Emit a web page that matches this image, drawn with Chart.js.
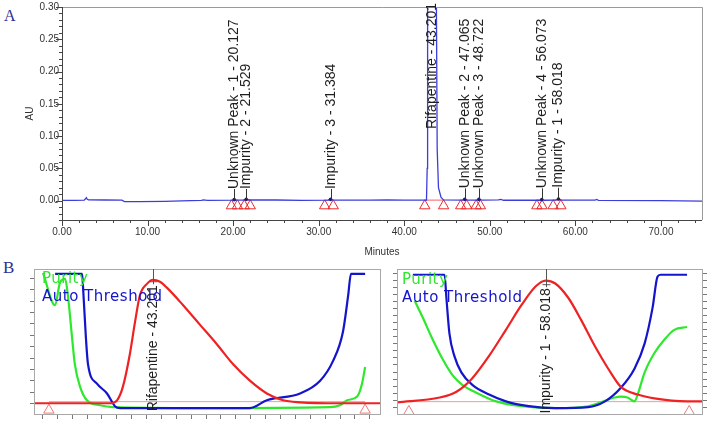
<!DOCTYPE html>
<html>
<head>
<meta charset="utf-8">
<script src="https://cdn.jsdelivr.net/npm/chart.js@4.4.1/dist/chart.umd.min.js"></script>
<style>
  html, body { margin: 0; padding: 0; background: #fff; }
  #page { position: relative; width: 709px; height: 421px; overflow: hidden; }
  canvas { position: absolute; }
  .tag { position: absolute; font-family: "Liberation Serif", "DejaVu Serif", serif; color: #2b2f96; }
</style>
</head>
<body>
<div id="page">
  <div class="tag" style="left:4px;top:8px;font-size:16px;line-height:16px">A</div>
  <div class="tag" style="left:3px;top:259px;font-size:17px;line-height:17px">B</div>
  <canvas id="chromatogram" width="709" height="262" style="left:0;top:0"></canvas>
  <canvas id="rifWindow" width="392" height="159" style="left:0;top:262px"></canvas>
  <canvas id="impWindow" width="319" height="159" style="left:390px;top:262px"></canvas>
</div>
<script>
// --- A: chromatogram (minutes vs AU) ---
const traceMinutes = [0, 1.5, 2.6, 2.75, 2.85, 2.95, 3.1, 5, 7.0, 7.3, 9, 12, 15, 16.3, 16.5, 17,
    19.9, 20.127, 20.4, 21.2, 21.529, 21.9, 25, 28, 31.1, 31.384, 31.7, 36, 38, 40,
    42.6, 42.68, 42.73, 42.9, 43.201, 43.5, 43.7, 43.76, 43.85, 44.0, 44.3, 44.6,
    46.8, 47.065, 47.4, 48.5, 48.722, 49.1, 51, 51.3, 51.6, 55.8, 56.073, 56.4,
    57.7, 58.018, 58.4, 62.3, 62.5, 62.7, 70, 74.8];
const traceAU = [0.0005, 0.0005, 0.0008, 0.003, 0.0045, 0.002, 0.0012, 0.001, 0.0008, -0.0015, -0.0015, -0.001, 0, 0.0005, 0.0012, 0.0004,
    0.0008, 0.0015, 0.0009, 0.001, 0.002, 0.001, 0.001, 0.0005, 0.0007, 0.002, 0.0008, 0.0008, 0.0012, 0.0009,
    0.0008, 0.05, 0.3, 1.0, 1.3, 1.0, 0.5, 0.3, 0.08, 0.02, 0.005, 0.0012,
    0.0008, 0.002, 0.0008, 0.0008, 0.002, 0.0009, 0.0012, 0.0018, 0.0006, 0.0006, 0.0015, 0.0006,
    0.0008, 0.0025, 0.0008, 0.0008, 0.0018, 0.0005, 0, -0.0008];

const peakNames = ['Unknown Peak - 1', 'Impurity - 2', 'Impurity - 3', 'Rifapentine',
    'Unknown Peak - 2', 'Unknown Peak - 3', 'Unknown Peak - 4', 'Impurity - 1'];
const peakTimes = [20.127, 21.529, 31.384, 43.201, 47.065, 48.722, 56.073, 58.018];
const peakHeights = [0.0015, 0.002, 0.002, 1.3, 0.002, 0.002, 0.0015, 0.0025];
const labelLevels = [0.018, 0.018, 0.018, 0.111, 0.019, 0.019, 0.019, 0.02];
const peakStarts = [19.8, 21.3, 30.7, 42.4, 46.6, 48.4, 55.5, 57.4];
const peakEnds = [20.5, 22.0, 31.7, 44.6, 47.3, 48.9, 56.1, 58.3];

// --- B: peak windows (percent of window width vs relative response) ---
const rifProfileX = [0, 22, 24, 25.7, 27.7, 29.2, 30.6, 32.7, 34.4, 36.4, 38.4, 43.1, 48, 52.9, 57.5, 62.4, 67.3, 72, 76.9, 88.4, 100];
const rifProfileY = [0, 0, 2.2, 12.4, 36.5, 60.6, 80.3, 89.1, 92, 90.5, 86.1, 73, 58.4, 43.8, 29.2, 16.8, 7.3, 2.2, 0.7, 0, 0];
const rifPurityX = [2.6, 6.1, 7.5, 9.0, 9.8, 11.0, 11.8, 13.3, 15.3, 19.1, 22.8, 48, 85.5, 88.4, 90.5, 93.4, 94.8, 95.7];
const rifPurityY = [97.1, 73, 89.8, 92.7, 80.3, 48.9, 29.2, 12.4, 2.2, -1.5, -2.9, -3.6, -2.9, -1.5, 2.2, 5.1, 14.6, 27];
const rifThresholdX = [6.1, 13.9, 14.2, 15.0, 15.6, 18.2, 21.1, 23.4, 24.9, 62.4, 67.3, 76.9, 82.7, 86.4, 89.3, 90.8, 91.6, 95.7];
const rifThresholdY = [96.4, 96.4, 85.4, 48.9, 29.2, 14.6, 7.3, -2.2, -3.6, -3.6, 2.2, 7.3, 16.8, 31.4, 53.3, 80.3, 96.4, 96.4];
const rifMarks = [4.3, 95.7];

const impProfileX = [0, 14, 19.5, 24.7, 30.2, 35.7, 40.9, 45.5, 48.7, 51.9, 56.2, 60.4, 64.9, 69.2, 73.4, 78.9, 84.4, 95.1, 100];
const impProfileY = [0.7, 4.3, 8.6, 18.7, 35.3, 54.7, 73.4, 87.1, 91.4, 89.2, 78.4, 61.9, 42.4, 25.9, 12.2, 6.5, 3.6, 1.4, 1.4];
const impPurityX = [5.8, 8.4, 11.7, 14.9, 18.2, 21.4, 26, 32.5, 40.9, 51.9, 62.7, 71.4, 73.4, 75.6, 77.9, 78.9, 81.2, 84.4, 87.7, 90.9, 95.1];
const impPurityY = [76.3, 64, 47.5, 33.1, 20.9, 13.7, 7.9, 1.4, -2.2, -3.6, -2.2, 4.3, 5, 4.3, 1.4, 6.5, 23, 37.4, 47.5, 54.7, 56.8];
const impThresholdX = [5.2, 15.6, 16.2, 17.2, 18.8, 21.1, 24.7, 30.2, 35.7, 43.2, 51.9, 62.7, 68.2, 73.4, 77.9, 81.2, 83.8, 85.4, 86.4, 95.1];
const impThresholdY = [95.7, 95.7, 78.4, 51.8, 35.3, 23, 13.7, 6.5, 1.4, -2.2, -3.6, -2.9, 1.4, 11.5, 25.9, 44.6, 71.2, 94.2, 95.7, 95.7];
const impMarks = [3.9, 95.8];

const SANS = '"Liberation Sans", Arial, sans-serif';
Chart.defaults.font.family = SANS;

const pts = (xs, ys) => xs.map((x, i) => ({x: x, y: ys[i]}));

// Axis frame, tick marks and peak labels for the chromatogram.
const chromDecor = {
    id: 'chromDecor',
    afterDatasetsDraw(chart) {
        const {ctx, chartArea: a, scales: {x, y}} = chart;
        ctx.save();
        ctx.lineWidth = 1;
        ctx.strokeStyle = '#9a9a9a';
        ctx.beginPath();
        ctx.moveTo(a.left, a.top + 0.5);
        ctx.lineTo(a.right + 0.5, a.top + 0.5);
        ctx.lineTo(a.right + 0.5, a.bottom);
        ctx.stroke();

        ctx.strokeStyle = '#444';
        ctx.beginPath();
        ctx.moveTo(a.left + 0.5, a.top);
        ctx.lineTo(a.left + 0.5, a.bottom + 0.5);
        ctx.lineTo(a.right, a.bottom + 0.5);
        for (let m = 0; m <= x.max; m += 2) {
            const px = Math.round(x.getPixelForValue(m)) + 0.5;
            ctx.moveTo(px, a.bottom);
            ctx.lineTo(px, a.bottom + (m % 10 === 0 ? 6 : 3));
        }
        for (let i = -3; i <= 30; i++) {
            const py = Math.round(y.getPixelForValue(i / 100)) + 0.5;
            ctx.moveTo(a.left - (i % 5 === 0 ? 6 : 3), py);
            ctx.lineTo(a.left, py);
        }
        ctx.stroke();

        // peak names, written upward from a short leader line
        ctx.font = '14px ' + SANS;
        ctx.fillStyle = '#1e1e1e';
        ctx.strokeStyle = '#333';
        ctx.textBaseline = 'middle';
        peakNames.forEach((name, i) => {
            const px = Math.round(x.getPixelForValue(peakTimes[i])) + 0.5;
            const base = y.getPixelForValue(peakHeights[i]);
            const top = y.getPixelForValue(labelLevels[i]);
            if (base > top) {
                ctx.beginPath();
                ctx.moveTo(px, base);
                ctx.lineTo(px, top);
                ctx.stroke();
            }
            ctx.save();
            ctx.translate(px, top);
            ctx.rotate(-Math.PI / 2);
            ctx.fillText(name + ' - ' + peakTimes[i].toFixed(3), 0, 0);
            ctx.restore();
        });
        ctx.restore();
    }
};

const baselineSegments = [];
peakStarts.forEach((s, i) => {
    baselineSegments.push({x: s, y: 0.0008}, {x: peakEnds[i], y: 0.0008}, {x: peakEnds[i] + 0.01, y: null});
});

new Chart(document.getElementById('chromatogram'), {
    type: 'line',
    data: {
        datasets: [
            {
                data: pts(peakTimes, peakHeights),
                showLine: false,
                pointRadius: 1.8,
                pointBackgroundColor: '#1c1c80',
                pointBorderWidth: 0,
            },
            {
                data: pts(traceMinutes, traceAU),
                borderColor: '#3d3ddc',
                borderWidth: 1.3,
                pointRadius: 0,
            },
            {
                data: pts(peakStarts.concat(peakEnds), peakStarts.concat(peakEnds).map(() => -0.008)),
                showLine: false,
                pointStyle: 'triangle',
                pointRadius: 6,
                pointBorderColor: '#ee2a2a',
                pointBackgroundColor: 'rgba(0,0,0,0)',
                pointBorderWidth: 1,
            },
            {
                data: baselineSegments,
                borderColor: '#f06060',
                borderWidth: 1,
                pointRadius: 0,
                spanGaps: false,
            },
        ],
    },
    options: {
        responsive: false,
        animation: false,
        devicePixelRatio: 1,
        events: [],
        layout: {padding: {top: 5, right: 6, left: 0, bottom: 0}},
        plugins: {legend: {display: false}, tooltip: {enabled: false}},
        scales: {
            x: {
                type: 'linear', min: 0, max: 74.8,
                grid: {display: false, drawTicks: false},
                border: {display: false},
                ticks: {
                    stepSize: 10, includeBounds: false, padding: 6, maxRotation: 0, autoSkip: false,
                    font: {size: 10}, color: '#333',
                    callback: v => v.toFixed(2),
                },
                title: {display: true, text: 'Minutes', font: {size: 10}, color: '#333', padding: {top: 4, bottom: 4}},
                afterFit: s => { s.height = 42; s.paddingLeft = 0; s.paddingRight = 0; },
            },
            y: {
                min: -0.03, max: 0.30,
                grid: {display: false, drawTicks: false},
                border: {display: false},
                ticks: {
                    stepSize: 0.05, includeBounds: false, padding: 3,
                    font: {size: 10}, color: '#333',
                    callback: v => v.toFixed(2),
                },
                title: {display: true, text: 'AU', font: {size: 10}, color: '#333', padding: {top: 24, bottom: 0}},
                afterFit: s => { s.width = 62; s.paddingTop = 0; s.paddingBottom = 0; },
            },
        },
    },
    plugins: [chromDecor],
});

// Frame, ticks, legend text and peak label for the zoomed peak windows.
const windowDecor = {
    id: 'windowDecor',
    afterDatasetsDraw(chart, args, opts) {
        const {ctx, chartArea: a, scales: {x, y}} = chart;
        ctx.save();
        ctx.lineWidth = 1;
        ctx.strokeStyle = '#a8a8a8';
        ctx.strokeRect(a.left + 0.5, a.top + 0.5, a.right - a.left, a.bottom - a.top);

        ctx.strokeStyle = '#777';
        ctx.beginPath();
        for (let v = opts.tickFrom; v <= 99; v += opts.tickStep) {
            const py = Math.round(y.getPixelForValue(v)) + 0.5;
            ctx.moveTo(a.left - 4, py);
            ctx.lineTo(a.left, py);
            if (opts.rightTicks) {
                ctx.moveTo(a.right + 1, py);
                ctx.lineTo(a.right + 5, py);
            }
        }
        if (opts.bottomStep) {
            for (let v = 2.3; v <= 99; v += opts.bottomStep) {
                const px = Math.round(x.getPixelForValue(v)) + 0.5;
                ctx.moveTo(px, a.bottom + 1);
                ctx.lineTo(px, a.bottom + 5);
            }
        }
        ctx.stroke();

        // peak label, written upward from the bottom, with a leader to the top edge
        ctx.font = '14px ' + SANS;
        ctx.fillStyle = '#1e1e1e';
        ctx.textBaseline = 'middle';
        const px = Math.round(x.getPixelForValue(opts.peakX)) + 0.5;
        const start = y.getPixelForValue(opts.labelFrom);
        const w = ctx.measureText(opts.label).width;
        ctx.strokeStyle = '#555';
        ctx.beginPath();
        ctx.moveTo(px, a.top);
        ctx.lineTo(px, start - w - 1);
        ctx.moveTo(px - 4, start - w - 3.5);
        ctx.lineTo(px + 4, start - w - 3.5);
        ctx.stroke();
        ctx.save();
        ctx.translate(px, start);
        ctx.rotate(-Math.PI / 2);
        ctx.fillText(opts.label, 0, 0);
        ctx.restore();

        // series names in the top left corner, Purity first
        ctx.font = '15px "DejaVu Sans", sans-serif';
        ctx.letterSpacing = '0.5px';
        chart.data.datasets.forEach(ds => {
            if (ds.legendRow === undefined) return;
            ctx.fillStyle = ds.borderColor;
            ctx.fillText(ds.label, a.left + opts.legendX, a.top + opts.legendY + ds.legendRow * 18);
        });
        ctx.restore();
    }
};

function peakWindow(id, profile, purity, threshold, marks, deco, pad, markY) {
    return new Chart(document.getElementById(id), {
        type: 'line',
        data: {
            datasets: [
                {label: 'Peak', data: profile, borderColor: '#ee2222', borderWidth: 2.2, pointRadius: 0, cubicInterpolationMode: 'monotone'},
                {label: 'Auto Threshold', legendRow: 1, data: threshold, borderColor: '#1414cc', borderWidth: 2.2, pointRadius: 0, cubicInterpolationMode: 'monotone'},
                {label: 'Purity', legendRow: 0, data: purity, borderColor: '#2ee82e', borderWidth: 2.2, pointRadius: 0, cubicInterpolationMode: 'monotone'},
                {label: 'Baseline', data: marks.map(m => ({x: m, y: 1.2})), borderColor: '#f39a9a', borderWidth: 1, pointRadius: 0},
                {
                    label: 'Marks', data: marks.map(m => ({x: m, y: markY})), showLine: false,
                    pointStyle: 'triangle', pointRadius: 6, pointBorderWidth: 1,
                    pointBorderColor: '#f07878', pointBackgroundColor: 'rgba(0,0,0,0)',
                },
            ],
        },
        options: {
            responsive: false,
            animation: false,
            devicePixelRatio: 1,
            events: [],
            layout: {padding: pad},
            plugins: {legend: {display: false}, tooltip: {enabled: false}, windowDecor: deco},
            scales: {
                x: {type: 'linear', min: 0, max: 100, display: false},
                y: {min: -8, max: 100, display: false},
            },
        },
        plugins: [windowDecor],
    });
}

peakWindow('rifWindow', pts(rifProfileX, rifProfileY), pts(rifPurityX, rifPurityY), pts(rifThresholdX, rifThresholdY), rifMarks,
    {label: 'Rifapentine - 43.201', peakX: 34.4, labelFrom: -6, legendX: 8, legendY: 10, tickFrom: 0, tickStep: 8.5, bottomStep: 4.3, rightTicks: false},
    {left: 34, right: 12, top: 6, bottom: 5}, -5.1);
peakWindow('impWindow', pts(impProfileX, impProfileY), pts(impPurityX, impPurityY), pts(impThresholdX, impThresholdY), impMarks,
    {label: 'Impurity - 1 - 58.018', peakX: 48.7, labelFrom: -7.6, legendX: 5, legendY: 11, tickFrom: -2.6, tickStep: 5.25, bottomStep: 0, rightTicks: true},
    {left: 7, right: 4, top: 3, bottom: 6}, -6.1);
</script>
</body>
</html>
